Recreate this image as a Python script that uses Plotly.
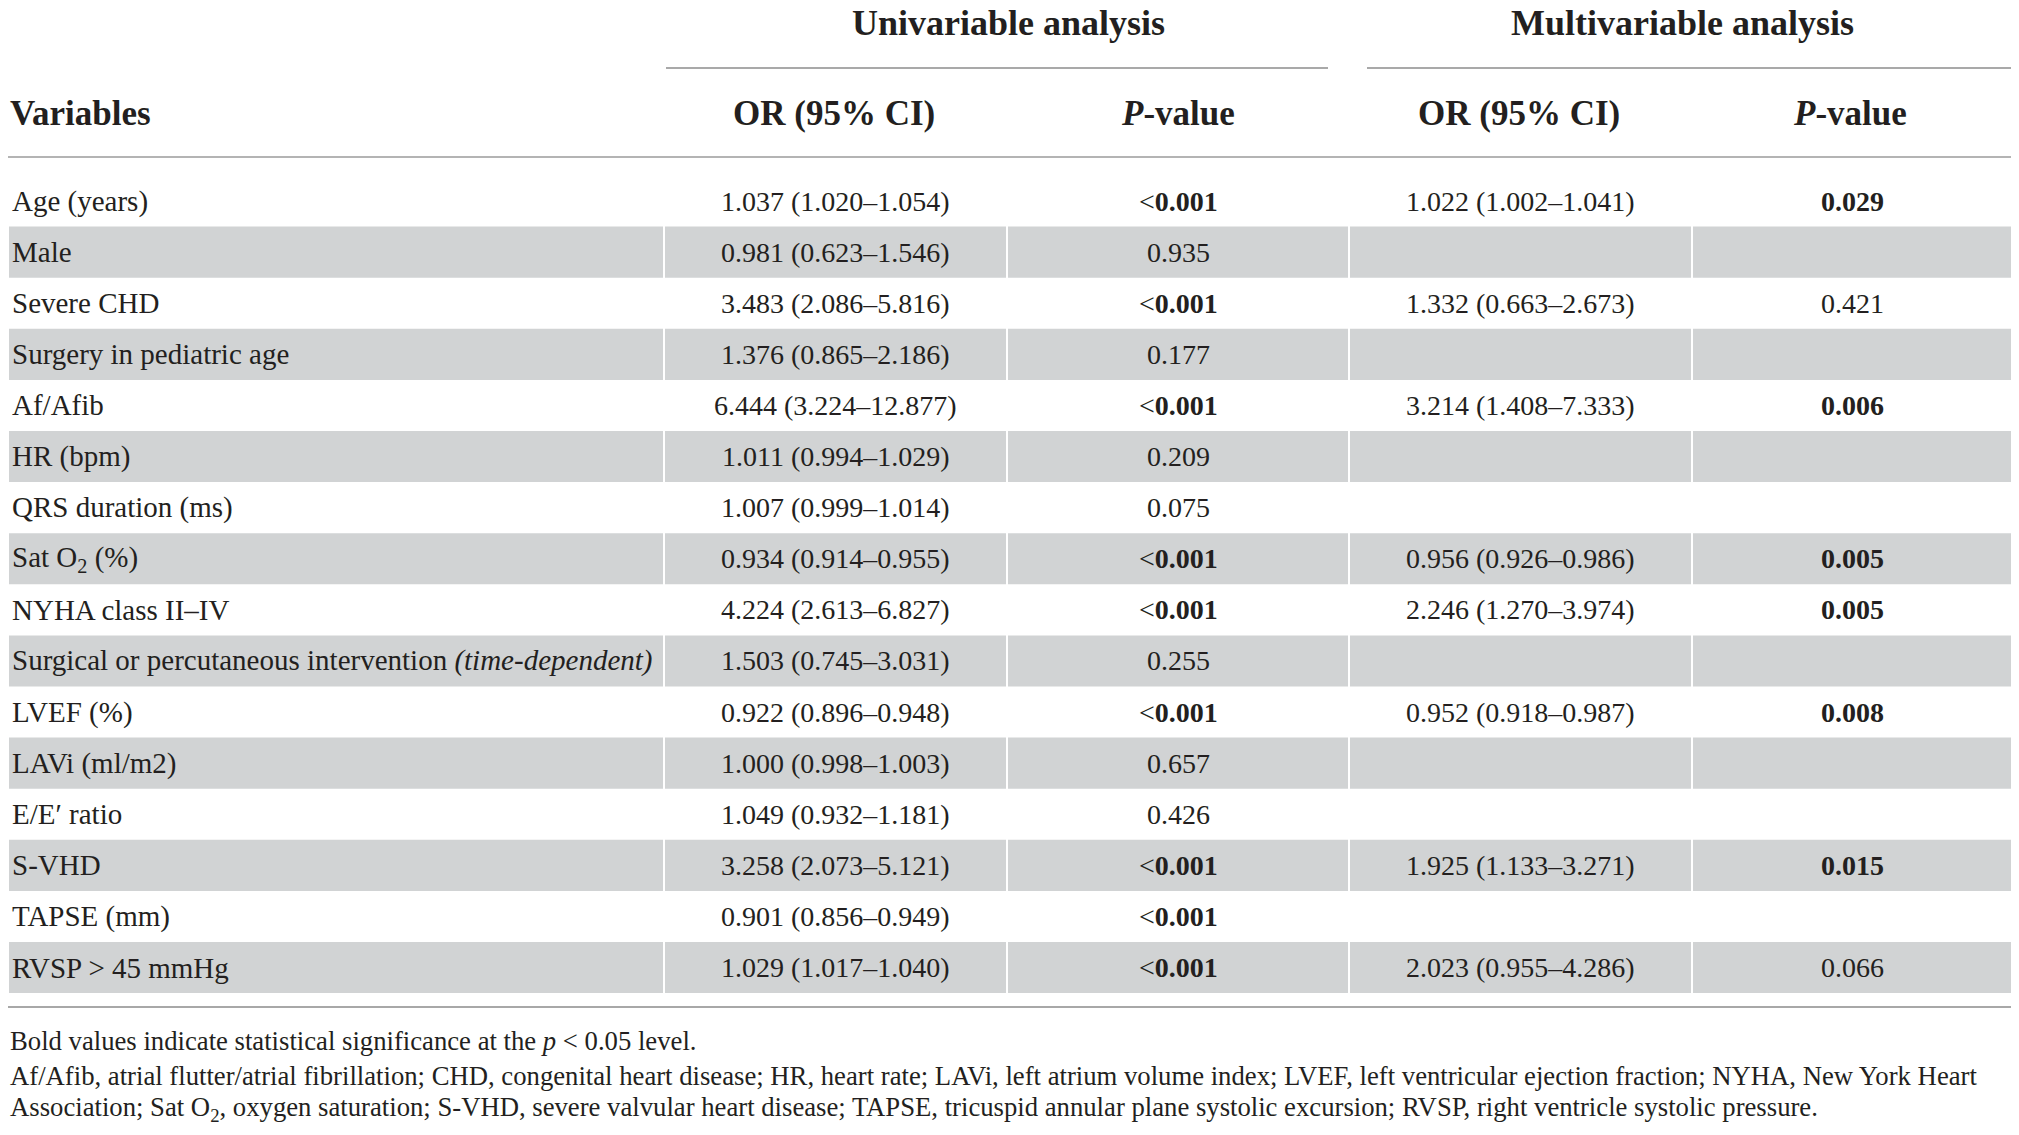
import plotly.graph_objects as go

## Data
variables = ['Age (years)', 'Male', 'Severe CHD', 'Surgery in pediatric age', 'Af/Afib',
             'HR (bpm)', 'QRS duration (ms)', 'Sat O<sub>2</sub> (%)', 'NYHA class II–IV',
             'Surgical or percutaneous intervention <i>(time-dependent)</i>', 'LVEF (%)',
             'LAVi (ml/m2)', 'E/E′ ratio', 'S-VHD', 'TAPSE (mm)', 'RVSP &gt; 45 mmHg']
uni_or = ['1.037 (1.020–1.054)', '0.981 (0.623–1.546)', '3.483 (2.086–5.816)', '1.376 (0.865–2.186)',
          '6.444 (3.224–12.877)', '1.011 (0.994–1.029)', '1.007 (0.999–1.014)', '0.934 (0.914–0.955)',
          '4.224 (2.613–6.827)', '1.503 (0.745–3.031)', '0.922 (0.896–0.948)', '1.000 (0.998–1.003)',
          '1.049 (0.932–1.181)', '3.258 (2.073–5.121)', '0.901 (0.856–0.949)', '1.029 (1.017–1.040)']
uni_p = ['<0.001', '0.935', '<0.001', '0.177', '<0.001', '0.209', '0.075', '<0.001',
         '<0.001', '0.255', '<0.001', '0.657', '0.426', '<0.001', '<0.001', '<0.001']
multi_or = ['1.022 (1.002–1.041)', '', '1.332 (0.663–2.673)', '', '3.214 (1.408–7.333)', '', '',
            '0.956 (0.926–0.986)', '2.246 (1.270–3.974)', '', '0.952 (0.918–0.987)', '', '',
            '1.925 (1.133–3.271)', '', '2.023 (0.955–4.286)']
multi_p = ['0.029', '', '0.421', '', '0.006', '', '', '0.005', '0.005', '', '0.008', '', '',
           '0.015', '', '0.066']
groups = ['Univariable analysis', 'Multivariable analysis']
headers = ['Variables', 'OR (95% CI)', '<i>P</i>-value', 'OR (95% CI)', '<i>P</i>-value']
notes = ['Bold values indicate statistical significance at the <i>p</i> &lt; 0.05 level.',
         'Af/Afib, atrial flutter/atrial fibrillation; CHD, congenital heart disease; HR, heart rate; LAVi, left atrium volume index; LVEF, left ventricular ejection fraction; NYHA, New York Heart',
         'Association; Sat O<sub>2</sub>, oxygen saturation; S-VHD, severe valvular heart disease; TAPSE, tricuspid annular plane systolic excursion; RVSP, right ventricle systolic pressure.']

## Layout
FONT = 'Liberation Serif'
INK = '#231F20'
BAND = '#D1D3D4'
edges = [9, 664, 1007, 1349, 1692, 2012]
centers = [(edges[i] + edges[i + 1]) / 2 for i in range(5)]
top0, pitch = 175.5, 51.1


def fmt_p(p):
    if p.startswith('<'):
        return '&lt;<b>' + p[1:] + '</b>'
    if p and float(p) < 0.05:
        return '<b>' + p + '</b>'
    return p


fig = go.Figure()

# shaded rows
for i in range(len(variables)):
    if i % 2 == 1:
        y0 = top0 + i * pitch
        for c in range(5):
            fig.add_shape(type='rect', x0=edges[c] + (1 if c else 0), x1=edges[c + 1] - 1,
                          y0=y0, y1=y0 + pitch, fillcolor=BAND, line_width=0, layer='below')

# rules
fig.add_shape(type='line', x0=666, x1=1328, y0=68, y1=68, line=dict(color='#8c8c8c', width=1.5))
fig.add_shape(type='line', x0=1367, x1=2011, y0=68, y1=68, line=dict(color='#8c8c8c', width=1.5))
fig.add_shape(type='line', x0=8, x1=2011, y0=157, y1=157, line=dict(color='#b4b4b4', width=2))
fig.add_shape(type='line', x0=8, x1=2011, y0=1007, y1=1007, line=dict(color='#a8a8a8', width=2))

def txt(x, y, s, size=28, anchor='center'):
    fig.add_annotation(x=x, y=y, text=s, showarrow=False, xanchor=anchor, yanchor='middle',
                       font=dict(family=FONT, size=size, color=INK), xref='x', yref='y')

# group titles and headers
txt(1008, 23, '<b>' + groups[0] + '</b>', 36)
txt(1682, 23, '<b>' + groups[1] + '</b>', 36)
txt(8, 113, '<b>' + headers[0] + '</b>', 35, 'left')
for c, h in zip([834, 1178, 1519, 1850], headers[1:]):
    txt(c, 113, '<b>' + h + '</b>', 35)

# body
for i in range(len(variables)):
    yc = top0 + i * pitch + pitch / 2
    txt(10, yc, variables[i], 29, 'left')
    txt(centers[1], yc, uni_or[i])
    txt(centers[2], yc, fmt_p(uni_p[i]))
    if multi_or[i]:
        txt(centers[3], yc, multi_or[i])
        txt(centers[4], yc, fmt_p(multi_p[i]))

# footnotes
for y, n in zip([1041, 1076, 1109], notes):
    txt(8, y, n, 26.7, 'left')

fig.update_xaxes(range=[8, 2011], visible=False)
fig.update_yaxes(range=[1127, 8], visible=False)
fig.update_layout(width=2003, height=1119, margin=dict(l=0, r=0, t=0, b=0),
                  plot_bgcolor='white', paper_bgcolor='white', showlegend=False)
fig.write_html('out.html')
